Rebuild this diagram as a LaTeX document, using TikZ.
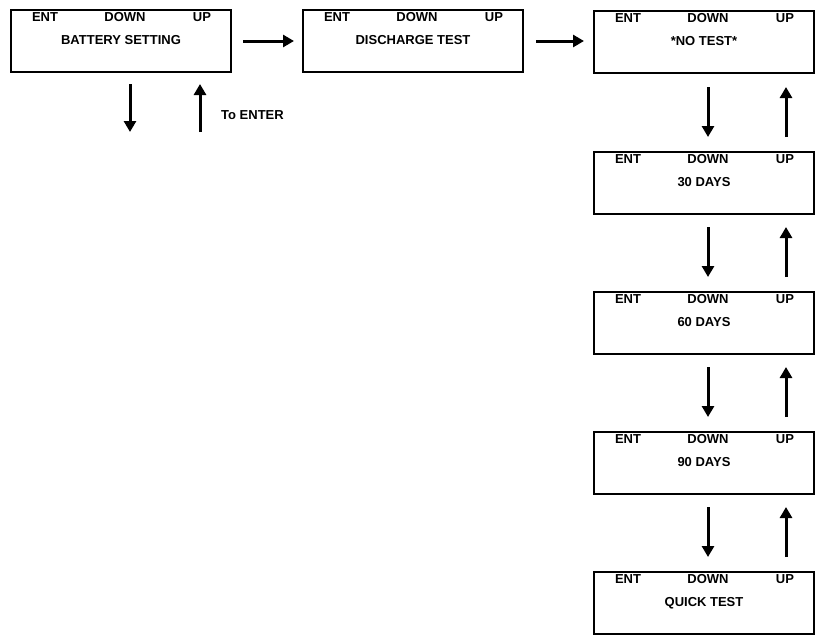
\documentclass[tikz,border=0pt]{standalone}
\usepackage{fontspec}
\setmainfont{Liberation Sans}
\usetikzlibrary{arrows.meta}
\begin{document}
\begin{tikzpicture}[x=1pt,y=-1pt,
  box/.style={draw,line width=2pt,minimum width=220pt,minimum height=62pt,inner sep=0pt},
  lbl/.style={font=\bfseries\fontsize{13}{13}\selectfont,inner sep=0pt,anchor=base},
  arr/.style={line width=3pt,-{Triangle[length=11pt,width=12pt]}}]
\useasboundingbox (0,0) rectangle (824,643);
\newcommand{\panel}[4]{%
  \node[box] (#1) at (#2,#3) {};
  \node[lbl] (#1t) at ([yshift=-3pt]#1.center) {#4};
  \node[lbl] (#1e) at ([xshift=-76pt,yshift=20pt]#1.center) {ENT};
  \node[lbl] (#1d) at ([xshift=4pt,yshift=20pt]#1.center) {DOWN};
  \node[lbl] (#1u) at ([xshift=81pt,yshift=20pt]#1.center) {UP};}
\panel{b1}{121}{41}{BATTERY SETTING}
\panel{b2}{413}{41}{DISCHARGE TEST}
\panel{c0}{704}{42}{*NO TEST*}
\panel{c1}{704}{183}{30 DAYS}
\panel{c2}{704}{323}{60 DAYS}
\panel{c3}{704}{463}{90 DAYS}
\panel{c4}{704}{603}{QUICK TEST}
\coordinate (r1s) at (243,41); \coordinate (r1e) at (294,41);
\draw[arr] (r1s) -- (r1e);
\coordinate (r2s) at (536,41); \coordinate (r2e) at (584,41);
\draw[arr] (r2s) -- (r2e);
\coordinate (d0s) at (130,84); \coordinate (d0e) at (130,132);
\draw[arr] (d0s) -- (d0e);
\coordinate (u0s) at (200,132); \coordinate (u0e) at (200,84);
\draw[arr] (u0s) -- (u0e);
\node[lbl,anchor=base west] (ent) at (221,119) {To ENTER};
\foreach \y in {87,227,367,507}{
  \coordinate (ds) at (708,\y); \coordinate (de) at (708,\y+50);
  \draw[arr] (ds) -- (de);
  \coordinate (us) at (786,\y+50); \coordinate (ue) at (786,\y);
  \draw[arr] (us) -- (ue);
}
\end{tikzpicture}
\end{document}
